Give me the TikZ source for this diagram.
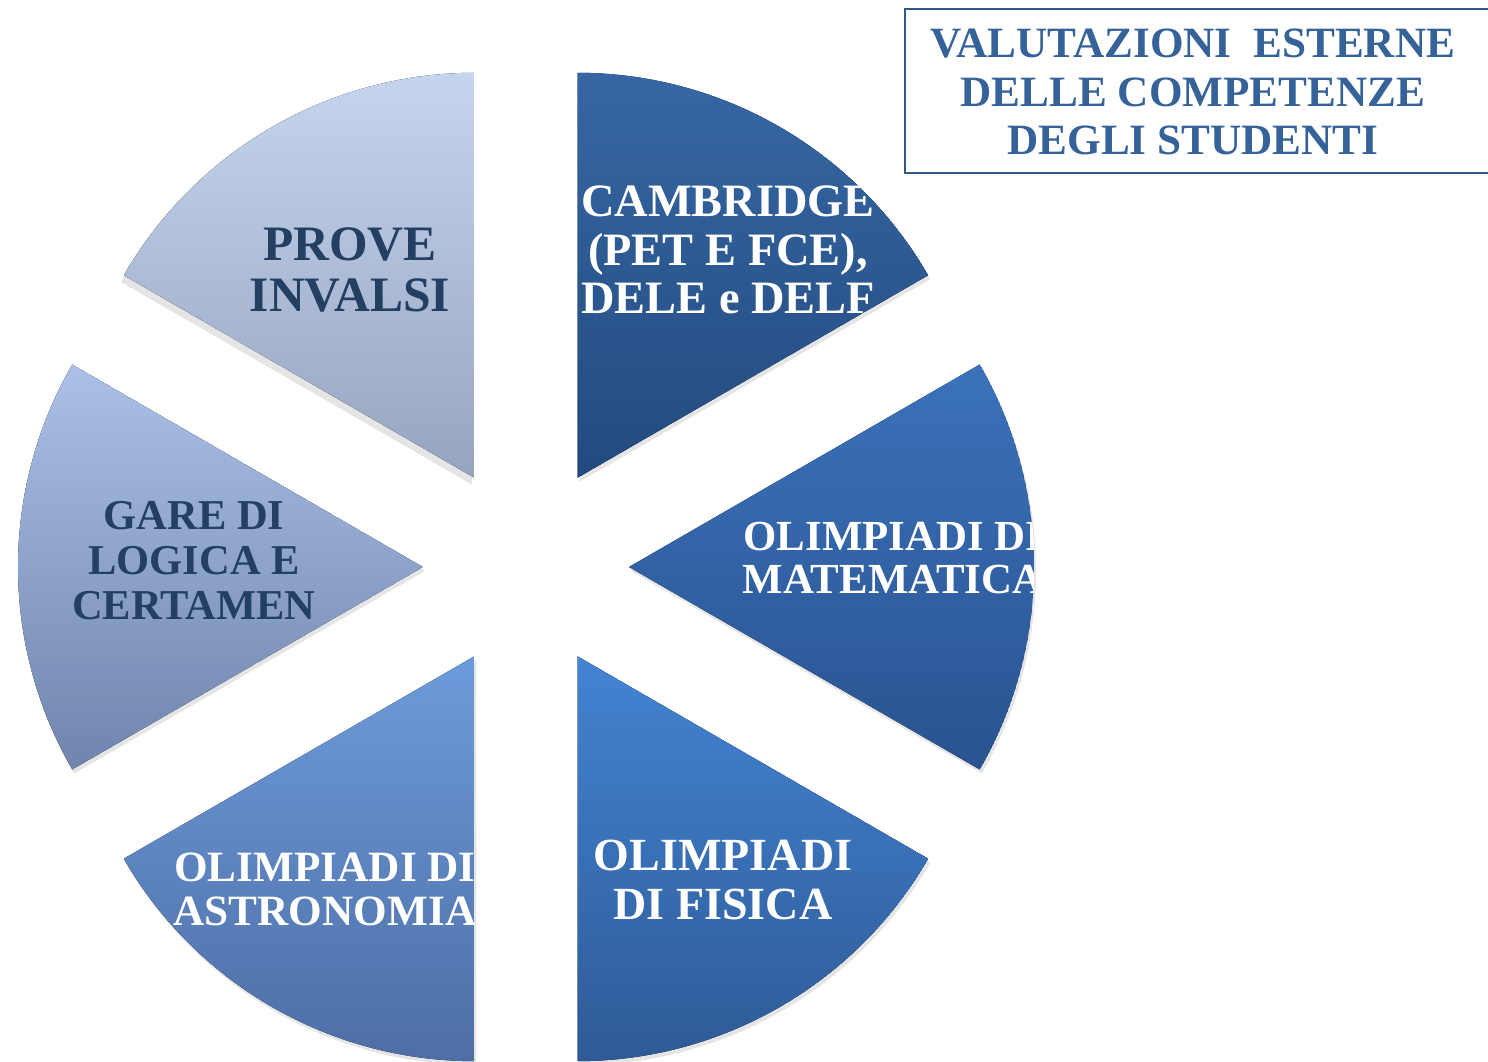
\documentclass[tikz,border=0pt]{standalone}
\usepackage{fontspec}
\setmainfont{Liberation Serif}
\usepackage{tikz}

\definecolor{navy}{HTML}{233F62}
\definecolor{titleblue}{HTML}{36629A}

\begin{document}
\begin{tikzpicture}[x=0.1mm, y=0.1mm,
		darktext/.style={text=navy, font=\bfseries, align=center},
		lighttext/.style={text=white, font=\bfseries, align=center},
		shade/.style={fill=black!20, opacity=0.5}]
		\useasboundingbox (-526,-495) rectangle (962,567);

		% PROVE INVALSI
		\fill[shade] (123:103) ++(2,-4) -- ++(90:405) arc[start angle=90, end angle=150, radius=405] -- cycle;
		\begin{scope}
			\clip (120:103) -- ++(90:405) arc[start angle=90, end angle=150, radius=405] -- cycle;
			\fill[top color={rgb,255:red,198;green,213;blue,238}, bottom color={rgb,255:red,150;green,164;blue,192}] (120:103) -- ++(90:405) arc[start angle=90, end angle=150, radius=405] -- cycle;
			\node[darktext, font=\fontsize{14.1}{14.5}\selectfont\bfseries] (invalsi) at (-176,297) {PROVE\\INVALSI};
		\end{scope}

		% CAMBRIDGE
		\fill[shade] (60:103) ++(2,-4) -- ++(90:405) arc[start angle=90, end angle=30, radius=405] -- cycle;
		\begin{scope}
			\clip (60:103) -- ++(90:405) arc[start angle=90, end angle=30, radius=405] -- cycle;
			\fill[top color={rgb,255:red,54;green,103;blue,164}, bottom color={rgb,255:red,35;green,74;blue,126}] (60:103) -- ++(90:405) arc[start angle=90, end angle=30, radius=405] -- cycle;
			\node[lighttext, font=\fontsize{13.2}{13.7}\selectfont\bfseries] (cambridge) at (202,317) {CAMBRIDGE\\(PET E FCE),\\DELE e DELF};
		\end{scope}

		% MATEMATICA
		\fill[shade] (0:103) ++(2,-4) -- ++(30:405) arc[start angle=30, end angle=-30, radius=405] -- cycle;
		\begin{scope}
			\clip (0:103) -- ++(30:405) arc[start angle=30, end angle=-30, radius=405] -- cycle;
			\fill[top color={rgb,255:red,59;green,114;blue,186}, bottom color={rgb,255:red,41;green,83;blue,144}] (0:103) -- ++(30:405) arc[start angle=30, end angle=-30, radius=405] -- cycle;
			\node[lighttext, font=\fontsize{12.2}{12.2}\selectfont\bfseries] (matematica) at (367,9) {OLIMPIADI DI\\MATEMATICA};
		\end{scope}

		% FISICA
		\fill[shade] (-60:103) ++(2,-4) -- ++(-30:405) arc[start angle=-30, end angle=-90, radius=405] -- cycle;
		\begin{scope}
			\clip (-60:103) -- ++(-30:405) arc[start angle=-30, end angle=-90, radius=405] -- cycle;
			\fill[top color={rgb,255:red,67;green,132;blue,211}, bottom color={rgb,255:red,46;green,90;blue,150}] (-60:103) -- ++(-30:405) arc[start angle=-30, end angle=-90, radius=405] -- cycle;
			\node[lighttext, font=\fontsize{13.1}{13.7}\selectfont\bfseries] (fisica) at (197,-313) {OLIMPIADI\\DI FISICA};
		\end{scope}

		% ASTRONOMIA
		\fill[shade] (-120:103) ++(2,-4) -- ++(-90:405) arc[start angle=-90, end angle=-150, radius=405] -- cycle;
		\begin{scope}
			\clip (-120:103) -- ++(-90:405) arc[start angle=-90, end angle=-150, radius=405] -- cycle;
			\fill[top color={rgb,255:red,108;green,155;blue,219}, bottom color={rgb,255:red,78;green,110;blue,165}] (-120:103) -- ++(-90:405) arc[start angle=-90, end angle=-150, radius=405] -- cycle;
			\node[lighttext, font=\fontsize{12.3}{12.5}\selectfont\bfseries] (astronomia) at (-201,-322) {OLIMPIADI DI\\ASTRONOMIA};
		\end{scope}

		% GARE DI LOGICA
		\fill[shade] (180:103) ++(2,-4) -- ++(150:405) arc[start angle=150, end angle=210, radius=405] -- cycle;
		\begin{scope}
			\clip (180:103) -- ++(150:405) arc[start angle=150, end angle=210, radius=405] -- cycle;
			\fill[top color={rgb,255:red,170;green,192;blue,230}, bottom color={rgb,255:red,112;green,133;blue,173}] (180:103) -- ++(150:405) arc[start angle=150, end angle=210, radius=405] -- cycle;
			\node[darktext, font=\fontsize{12.1}{12.8}\selectfont\bfseries] (gare) at (-332,6) {GARE DI\\LOGICA E\\CERTAMEN};
		\end{scope}

		% titolo
		\draw[titleblue!90!black, line width=0.6pt] (379,558) rectangle (975,394);
		\node[text=titleblue, font=\fontsize{12.3}{13.9}\selectfont\bfseries, align=center] (titolo) at (667,475) {VALUTAZIONI\ \ ESTERNE\\DELLE COMPETENZE\\DEGLI STUDENTI};
	\end{tikzpicture}
\end{document}
